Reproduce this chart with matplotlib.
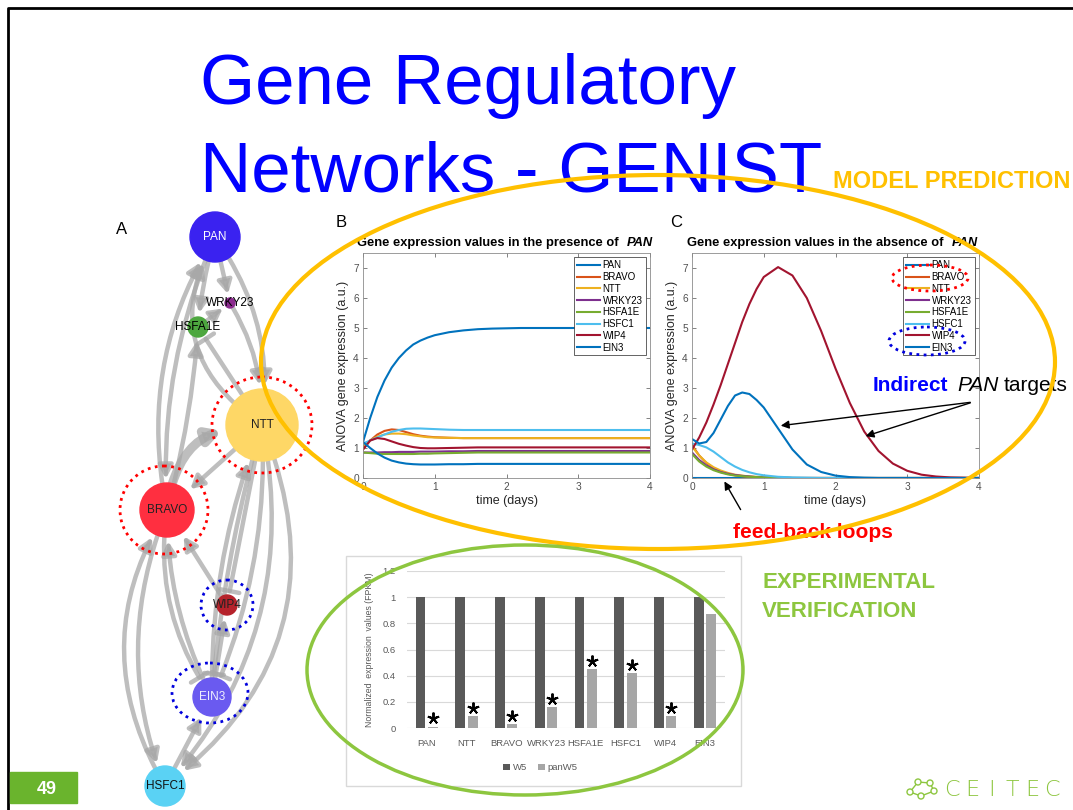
import matplotlib.pyplot as plt
from matplotlib.patches import Ellipse, Rectangle, Circle, FancyArrowPatch, ArrowStyle

W, H = 1073, 810
plt.rcParams['font.family'] = ['Liberation Sans', 'DejaVu Sans']

# ---- model simulation curves (panels B and C) ----
genes = ['PAN', 'BRAVO', 'NTT', 'WRKY23', 'HSFA1E', 'HSFC1', 'WIP4', 'EIN3']
gene_colors = ['#0072BD', '#D95319', '#EDB120', '#7E2F8E', '#77AC30', '#4DBEEE', '#A2142F', '#0072BD']

days = [0, 0.1, 0.2, 0.3, 0.4, 0.5, 0.6, 0.7, 0.8, 0.9, 1.0, 1.2, 1.4, 1.6, 1.8,
        2.0, 2.2, 2.4, 2.6, 2.8, 3.0, 3.2, 3.4, 3.6, 3.8, 4.0]

# presence of PAN
pan_b = [1.2, 2.0, 2.7, 3.25, 3.68, 4.0, 4.25, 4.45, 4.58, 4.68, 4.76, 4.86, 4.92, 4.96, 4.98,
         4.99, 5.0, 5.0, 5.0, 5.0, 5.0, 5.0, 5.0, 5.0, 5.0, 5.0]
bravo_b = [0.95, 1.25, 1.45, 1.57, 1.62, 1.6, 1.53, 1.46, 1.41, 1.38, 1.36, 1.34, 1.33, 1.33, 1.33,
           1.33, 1.33, 1.33, 1.33, 1.33, 1.33, 1.33, 1.33, 1.33, 1.33, 1.33]
ntt_b = [1.05, 1.25, 1.38, 1.45, 1.48, 1.48, 1.46, 1.42, 1.39, 1.36, 1.35, 1.34, 1.33, 1.33, 1.33,
         1.33, 1.33, 1.33, 1.33, 1.33, 1.33, 1.33, 1.33, 1.33, 1.33, 1.33]
wrky23_b = [0.85, 0.85, 0.85, 0.86, 0.86, 0.87, 0.87, 0.87, 0.88, 0.88, 0.88, 0.89, 0.89, 0.9, 0.9,
            0.9, 0.9, 0.9, 0.9, 0.9, 0.9, 0.9, 0.9, 0.9, 0.9, 0.9]
hsfa1e_b = [0.85, 0.83, 0.81, 0.8, 0.8, 0.8, 0.8, 0.8, 0.81, 0.81, 0.82, 0.83, 0.84, 0.85, 0.85,
            0.85, 0.85, 0.85, 0.85, 0.85, 0.85, 0.85, 0.85, 0.85, 0.85, 0.85]
hsfc1_b = [1.15, 1.25, 1.35, 1.45, 1.54, 1.6, 1.64, 1.65, 1.65, 1.64, 1.63, 1.61, 1.6, 1.6, 1.6,
           1.6, 1.6, 1.6, 1.6, 1.6, 1.6, 1.6, 1.6, 1.6, 1.6, 1.6]
wip4_b = [0.95, 1.25, 1.33, 1.3, 1.22, 1.14, 1.08, 1.03, 1.0, 0.99, 0.99, 1.0, 1.01, 1.02, 1.02,
          1.02, 1.02, 1.02, 1.02, 1.02, 1.02, 1.02, 1.02, 1.02, 1.02, 1.02]
ein3_b = [1.2, 1.0, 0.82, 0.68, 0.58, 0.52, 0.48, 0.46, 0.45, 0.45, 0.45, 0.46, 0.46, 0.47, 0.47,
          0.47, 0.47, 0.47, 0.47, 0.47, 0.47, 0.47, 0.47, 0.47, 0.47, 0.47]

# absence of PAN
pan_c = [0, 0, 0, 0, 0, 0, 0, 0, 0, 0, 0, 0, 0, 0, 0, 0, 0, 0, 0, 0, 0, 0, 0, 0, 0, 0]
bravo_c = [1.1, 0.75, 0.5, 0.33, 0.22, 0.14, 0.09, 0.06, 0.04, 0.03, 0.02, 0.01, 0, 0, 0,
           0, 0, 0, 0, 0, 0, 0, 0, 0, 0, 0]
ntt_c = [1.05, 0.75, 0.52, 0.36, 0.25, 0.17, 0.11, 0.08, 0.05, 0.04, 0.03, 0.01, 0, 0, 0,
         0, 0, 0, 0, 0, 0, 0, 0, 0, 0, 0]
wrky23_c = [0.85, 0.6, 0.42, 0.29, 0.2, 0.14, 0.1, 0.07, 0.05, 0.03, 0.02, 0.01, 0, 0, 0,
            0, 0, 0, 0, 0, 0, 0, 0, 0, 0, 0]
hsfa1e_c = [0.8, 0.55, 0.38, 0.26, 0.18, 0.12, 0.08, 0.06, 0.04, 0.03, 0.02, 0.01, 0, 0, 0,
            0, 0, 0, 0, 0, 0, 0, 0, 0, 0, 0]
hsfc1_c = [1.15, 1.1, 1.02, 0.88, 0.7, 0.52, 0.38, 0.27, 0.19, 0.13, 0.09, 0.04, 0.02, 0.01, 0,
           0, 0, 0, 0, 0, 0, 0, 0, 0, 0, 0]
wip4_c = [0.95, 1.35, 1.85, 2.45, 3.1, 3.8, 4.5, 5.2, 5.8, 6.3, 6.7, 7.03, 6.75, 6.0, 4.9,
          3.65, 2.5, 1.55, 0.9, 0.48, 0.24, 0.11, 0.05, 0.02, 0.01, 0]
ein3_c = [1.3, 1.15, 1.2, 1.5, 1.95, 2.4, 2.75, 2.85, 2.8, 2.6, 2.35, 1.65, 0.95, 0.45, 0.2,
          0.08, 0.03, 0.01, 0, 0, 0, 0, 0, 0, 0, 0]

series_b = [pan_b, bravo_b, ntt_b, wrky23_b, hsfa1e_b, hsfc1_b, wip4_b, ein3_b]
series_c = [pan_c, bravo_c, ntt_c, wrky23_c, hsfa1e_c, hsfc1_c, wip4_c, ein3_c]

# ---- experimental verification ----
bar_genes = ['PAN', 'NTT', 'BRAVO', 'WRKY23', 'HSFA1E', 'HSFC1', 'WIP4', 'EIN3']
w5 = [1, 1, 1, 1, 1, 1, 1, 1]
panw5 = [0.01, 0.09, 0.03, 0.16, 0.45, 0.42, 0.09, 0.87]
significant = [True, True, True, True, True, True, True, False]

# ---- network (panel A) ----
node_names = ['PAN', 'WRKY23', 'HSFA1E', 'NTT', 'BRAVO', 'WIP4', 'EIN3', 'HSFC1']
node_x = [215, 230, 198, 262, 167, 227, 212, 165]
node_y = [237, 303, 327, 425, 510, 605, 697, 786]
node_r = [25, 5, 10, 36, 27, 10, 19, 20]
node_colors = ['#3A22F0', '#8B2A8E', '#4DA73F', '#FED766', '#FF2F40', '#B5222B', '#6A5AF0', '#5AD2F4']
label_colors = ['white', 'black', 'black', '#222222', '#222222', '#222222', '#EEEEFF', '#111111']

edge_src = ['PAN', 'PAN', 'PAN', 'NTT', 'BRAVO', 'PAN', 'BRAVO', 'NTT', 'BRAVO', 'NTT', 'WRKY23',
            'HSFA1E', 'NTT', 'NTT', 'NTT', 'NTT', 'NTT', 'EIN3', 'BRAVO', 'EIN3', 'WIP4', 'EIN3',
            'HSFC1', 'BRAVO', 'HSFC1']
edge_dst = ['HSFA1E', 'WRKY23', 'NTT', 'PAN', 'PAN', 'BRAVO', 'NTT', 'BRAVO', 'HSFA1E', 'HSFA1E', 'NTT',
            'WRKY23', 'EIN3', 'EIN3', 'WIP4', 'HSFC1', 'HSFC1', 'NTT', 'EIN3', 'BRAVO', 'BRAVO', 'WIP4',
            'BRAVO', 'HSFC1', 'EIN3']
edge_kind = ['act', 'act', 'act', 'act', 'act', 'act', 'act', 'act', 'act', 'inh', 'act',
             'act', 'inh', 'inh', 'inh', 'act', 'act', 'act', 'inh', 'act', 'act', 'act',
             'act', 'act', 'act']
edge_rad = [0.05, 0, -0.2, -0.45, -0.2, 0.12, -0.45, 0, 0.05, 0, -0.15,
            0, 0.05, -0.12, 0, -0.38, -0.25, -0.1, 0.2, -0.12, 0, 0,
            -0.3, 0.2, 0]
edge_lw = [3.2, 3.2, 3.2, 3.2, 3.2, 3.2, 6.5, 3.2, 3.2, 3.2, 3.2,
           2.8, 3.2, 3.2, 3.2, 3.2, 3.2, 3.2, 3.2, 3.2, 3.2, 3.2,
           3.2, 3.2, 3.2]

fig = plt.figure(figsize=(W / 100, H / 100), dpi=100)
fig.patch.set_facecolor('white')
renderer = fig.canvas.get_renderer()


def px_axes(l, t, r, b, **kw):
    return fig.add_axes([l / W, 1 - b / H, (r - l) / W, (b - t) / H], **kw)


def matlab_panel(ax, series):
    for vals, name, col in zip(series, genes, gene_colors):
        ax.plot(days, vals, color=col, lw=1.5, label=name)
    ax.set_xlim(0, 4)
    ax.set_ylim(0, 7.5)
    ax.set_xticks(range(5))
    ax.set_yticks(range(8))
    ax.tick_params(direction='in', length=3, width=0.5, labelsize=7.3,
                   labelcolor='#505050', color='#505050', top=True, right=True, pad=3)
    for s in ax.spines.values():
        s.set_color('#8c8c8c')
        s.set_linewidth(0.6)
    ax.set_xlabel('time (days)', fontsize=9, color='#262626', labelpad=2)
    ax.set_ylabel('ANOVA gene expression (a.u.)', fontsize=9, color='#262626', labelpad=3)
    leg = ax.legend(loc='upper right', fontsize=7, handlelength=2.4, labelspacing=0.18,
                    borderpad=0.3, handletextpad=0.25, fancybox=False, edgecolor='#262626',
                    framealpha=1, borderaxespad=0.45)
    leg.get_frame().set_linewidth(0.5)


axB = px_axes(363, 253, 650, 478)
matlab_panel(axB, series_b)
axC = px_axes(692, 253, 979, 478)
matlab_panel(axC, series_c)

# bar chart
axD = px_axes(407, 571, 725, 728)
xs = range(len(bar_genes))
axD.bar([x - 0.16 for x in xs], w5, width=0.25, color='#595959', label='W5', zorder=3)
axD.bar([x + 0.15 for x in xs], panw5, width=0.25, color='#A6A6A6', label='panW5', zorder=3)
for x, v, sig in zip(xs, panw5, significant):
    if sig:
        axD.plot(x + 0.15, v + 0.065, marker=(5, 2, 0), ms=8.5, mew=1.4, color='black', zorder=4)
axD.set_xlim(-0.5, len(bar_genes) - 0.5)
axD.set_ylim(0, 1.2)
axD.set_yticks([0, 0.2, 0.4, 0.6, 0.8, 1.0, 1.2])
axD.set_yticklabels(['0', '0.2', '0.4', '0.6', '0.8', '1', '1.2'])
axD.set_xticks(list(xs))
axD.set_xticklabels(bar_genes)
axD.tick_params(length=0, labelsize=6.8, labelcolor='#595959', pad=8)
axD.grid(axis='y', color='#D9D9D9', lw=0.8, zorder=0)
for s in axD.spines.values():
    s.set_visible(False)
axD.set_ylabel('Normalized  expression  values (FPKM)', fontsize=6.3, color='#595959', labelpad=6)
axD.legend(loc='upper center', bbox_to_anchor=(0.42, -0.17), ncol=2, frameon=False,
           fontsize=6.8, handlelength=0.7, handleheight=0.7, columnspacing=1.2,
           handletextpad=0.3, labelcolor='#595959')

# overlay in pixel coordinates
ov = fig.add_axes([0, 0, 1, 1], zorder=10)
ov.set_xlim(0, W)
ov.set_ylim(H, 0)
ov.set_axis_off()

# slide border
ov.plot([8, 8, W], [H, 8, 8], color='black', lw=2)

# title
ov.text(200, 104, 'Gene Regulatory', fontsize=51, color='#0000FF', va='baseline')
ov.text(200, 191, 'Networks - GENIST', fontsize=51, color='#0000FF', va='baseline')

# panel letters
ov.text(116, 234, 'A', fontsize=12, va='baseline')
ov.text(336, 227, 'B', fontsize=12, va='baseline')
ov.text(670, 227, 'C', fontsize=12, va='baseline')


def title_with_italic(x, y, main, tail, size):
    t = ov.text(x, y, main, fontsize=size, fontweight='bold', va='baseline')
    bb = t.get_window_extent(renderer=renderer)
    ov.text(bb.x1 + 8, y, tail, fontsize=size, fontweight='bold', style='italic', va='baseline')


# panel titles
title_with_italic(357, 246, 'Gene expression values in the presence of', 'PAN', 9.3)
title_with_italic(687, 246, 'Gene expression values in the absence of', 'PAN', 9.3)

# network edges
pos = {n: (x, y, r) for n, x, y, r in zip(node_names, node_x, node_y, node_r)}
for s, d, k, rad, lw in zip(edge_src, edge_dst, edge_kind, edge_rad, edge_lw):
    x1, y1, r1 = pos[s]
    x2, y2, r2 = pos[d]
    if k == 'act':
        style = ArrowStyle('-|>', head_length=0.55, head_width=0.3)
    else:
        style = ArrowStyle('-[', widthB=0.5, lengthB=0.0)
    ov.add_patch(FancyArrowPatch((x1, y1), (x2, y2), arrowstyle=style, mutation_scale=14,
                                 connectionstyle=f'arc3,rad={rad}', color='#A8A8A8', lw=lw,
                                 shrinkA=r1 * 0.72, shrinkB=r2 * 0.72 + 3, alpha=0.75, zorder=2))

# network nodes
for n, x, y, r, c, lc in zip(node_names, node_x, node_y, node_r, node_colors, label_colors):
    ov.add_patch(Circle((x, y), r, color=c, zorder=3))
    ov.text(x, y, n, fontsize=8.5, color=lc, ha='center', va='center', zorder=4)

# highlight rings
dots = (0, (1, 1.6))
ov.add_patch(Ellipse((262, 425), 100, 96, fill=False, ec='#FF0000', lw=2, ls=dots, zorder=5))
ov.add_patch(Ellipse((164, 510), 88, 88, fill=False, ec='#FF0000', lw=2, ls=dots, zorder=5))
ov.add_patch(Ellipse((227, 605), 52, 50, fill=False, ec='#0000DD', lw=2, ls=dots, zorder=5))
ov.add_patch(Ellipse((210, 693), 76, 60, fill=False, ec='#0000DD', lw=2, ls=dots, zorder=5))
ov.add_patch(Ellipse((930, 278), 76, 26, fill=False, ec='#FF0000', lw=2, ls=dots, zorder=5))
ov.add_patch(Ellipse((927, 341), 76, 28, fill=False, ec='#0000DD', lw=2, ls=dots, zorder=5))

# big annotation ellipses
ov.add_patch(Ellipse((658, 362), 794, 374, fill=False, ec='#FFC000', lw=3, zorder=6))
ov.add_patch(Ellipse((525, 670), 436, 250, fill=False, ec='#8DC63F', lw=2.5, zorder=6))
ov.add_patch(Rectangle((346, 556), 395, 230, fill=False, ec='#D9D9D9', lw=1, zorder=1))

ov.text(833, 188, 'MODEL PREDICTION', fontsize=17, fontweight='bold', color='#FFC000', va='baseline')
ov.text(762, 588, 'EXPERIMENTAL', fontsize=16, fontweight='bold', color='#8DC63F', va='baseline')
ov.text(762, 617, 'VERIFICATION', fontsize=16, fontweight='bold', color='#8DC63F', va='baseline')

ov.text(873, 391, 'Indirect', fontsize=15, fontweight='bold', color='#0000FF', va='baseline')
ov.text(957, 391, 'PAN', fontsize=15, style='italic', color='black', va='baseline')
ov.text(1004, 391, 'targets', fontsize=15, color='black', va='baseline')
ov.annotate('', xy=(778, 426), xytext=(973, 402),
            arrowprops=dict(arrowstyle='-|>', color='black', lw=1, mutation_scale=12))
ov.annotate('', xy=(863, 437), xytext=(973, 402),
            arrowprops=dict(arrowstyle='-|>', color='black', lw=1, mutation_scale=12))

ov.text(733, 538, 'feed-back loops', fontsize=15, fontweight='bold', color='#FF0000', va='baseline')
ov.annotate('', xy=(723, 479), xytext=(742, 512),
            arrowprops=dict(arrowstyle='-|>', color='black', lw=1, mutation_scale=12))

# footer
ov.add_patch(Rectangle((10, 772), 67, 31, color='#6AB42D', zorder=5))
ov.text(47, 789, '49', fontsize=13, fontweight='bold', color='white', ha='center', va='center', zorder=6)

logo_green = '#8DC63F'
icon_x = [910, 918, 930, 934, 921]
icon_y = [792, 782, 783, 791, 796]
ov.plot(icon_x + [icon_x[0]], icon_y + [icon_y[0]], color=logo_green, lw=1)
for x, y in zip(icon_x, icon_y):
    ov.add_patch(Circle((x, y), 3, fill=True, fc='white', ec=logo_green, lw=1, zorder=7))
for i, ch in enumerate('CEITEC'):
    ov.text(952 + i * 20, 790, ch, fontsize=16, color=logo_green, ha='center', va='center',
            family='DejaVu Sans', fontweight='light')

fig.savefig('out.png', dpi=100)
